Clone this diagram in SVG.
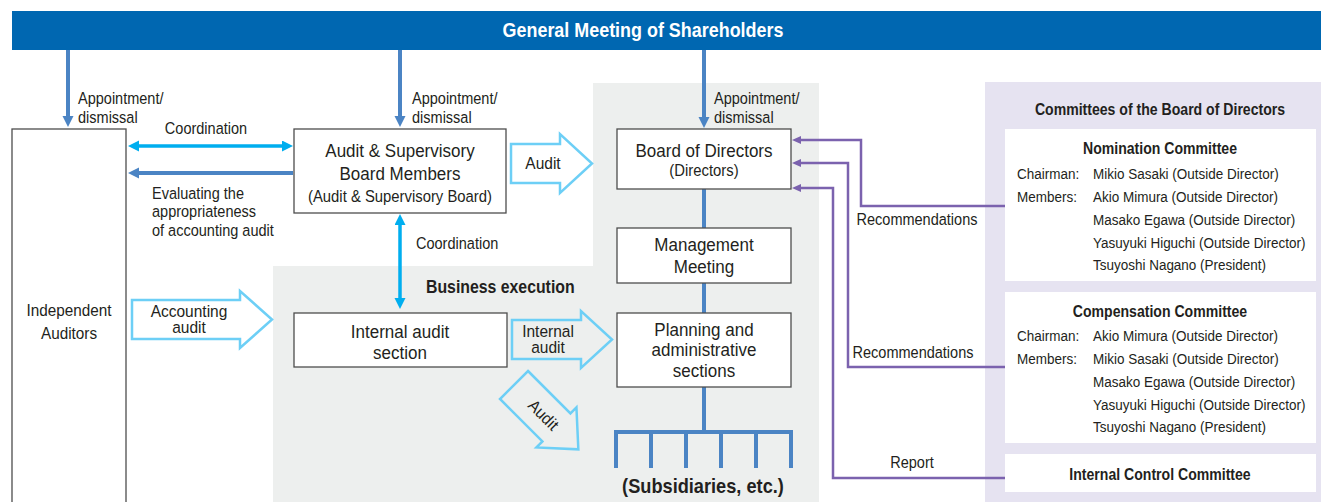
<svg xmlns="http://www.w3.org/2000/svg" width="1321" height="502" viewBox="0 0 1321 502">
<style>
text{font-family:"Liberation Sans",Arial,sans-serif;fill:#231f20;transform-box:fill-box;transform-origin:0% 50%}
.c{text-anchor:middle;transform-origin:50% 50%}
.b{font-weight:bold}
.bx{fill:#fff;stroke:#4d4d4d;stroke-width:1.3}
.lbl{font-size:16.5px;transform:scaleX(.88)}
.bt{font-size:18.5px;transform:scaleX(.92)}
.sub{font-size:16.5px;transform:scaleX(.9)}
.ia{font-size:17px;transform:scaleX(.9)}
.mem{font-size:15.5px;transform:scaleX(.87)}
.ct{font-size:16px;font-weight:bold;text-anchor:middle;transform-origin:50% 50%;transform:scaleX(.88)}
.hl{font-size:16.5px;text-anchor:middle;transform-origin:50% 50%;transform:scaleX(.94)}
.ttl{font-size:19.5px;font-weight:bold;fill:#fff;transform:scaleX(.92)}
.bex{font-size:18px;font-weight:bold;transform:scaleX(.88)}
.subs{font-size:20px;font-weight:bold;transform:scaleX(.91)}
.blue{fill:none;stroke:#4b84c4;stroke-width:4}
.cyan{fill:none;stroke:#00aeef;stroke-width:3.5}
.pur{fill:none;stroke:#7b62ae;stroke-width:2.5}
.hol{fill:none;stroke:#6dcff6;stroke-width:2.5;stroke-linejoin:miter}
</style>
<defs>
<marker id="ab" markerUnits="userSpaceOnUse" markerWidth="12" markerHeight="12" refX="1" refY="5.5" orient="auto"><path d="M0,0 L11,5.5 L0,11 Z" fill="#4b84c4"/></marker>
<marker id="ac" markerUnits="userSpaceOnUse" markerWidth="12" markerHeight="12" refX="1" refY="5.5" orient="auto-start-reverse"><path d="M0,0 L11,5.5 L0,11 Z" fill="#00aeef"/></marker>
<marker id="ap" markerUnits="userSpaceOnUse" markerWidth="10" markerHeight="10" refX="1" refY="4" orient="auto"><path d="M0,0 L9,4 L0,8 Z" fill="#7b62ae"/></marker>
</defs>
<rect width="1321" height="502" fill="#fff"/>
<g id="regions">
<rect id="board-area" x="593" y="83" width="226" height="419" fill="#edefee"/>
<rect id="business-execution-area" x="273" y="266" width="320" height="236" fill="#edefee"/>
<rect id="committees-area" x="985" y="82" width="336" height="420" fill="#e6e3f1"/>
<text class="bex" x="426" y="293">Business execution</text>
</g>
<g id="banner">
<rect x="12" y="11" width="1309" height="39" fill="#0067b1"/>
<text class="c ttl" x="643" y="37.5">General Meeting of Shareholders</text>
</g>
<g id="connectors">
<path class="blue" d="M68,50 V117" marker-end="url(#ab)"/>
<path class="blue" d="M400,50 V117" marker-end="url(#ab)"/>
<path class="blue" d="M704,50 V118" marker-end="url(#ab)"/>
<text class="lbl" x="78" y="104">Appointment/</text>
<text class="lbl" x="78" y="123">dismissal</text>
<text class="lbl" x="412" y="104">Appointment/</text>
<text class="lbl" x="412" y="123">dismissal</text>
<text class="lbl" x="714" y="104">Appointment/</text>
<text class="lbl" x="714" y="123">dismissal</text>
<path class="cyan" d="M138,146 H283" marker-start="url(#ac)" marker-end="url(#ac)"/>
<text class="lbl c" x="206" y="134">Coordination</text>
<path class="blue" d="M293,173 H138" marker-end="url(#ab)"/>
<text class="lbl" x="152" y="199">Evaluating the</text>
<text class="lbl" x="152" y="217">appropriateness</text>
<text class="lbl" x="152" y="236">of accounting audit</text>
<path class="cyan" d="M400,224 V299" marker-start="url(#ac)" marker-end="url(#ac)"/>
<text class="lbl" x="416" y="249">Coordination</text>
<path class="blue" d="M704,189 V228 M704,283 V313 M704,387 V432"/>
<path class="blue" d="M616,468 V432 H791 V468 M651,432 V468 M686,432 V468 M721,432 V468 M756,432 V468"/>
<path class="pur" d="M1005,206 H861 V140 H800" marker-end="url(#ap)"/>
<path class="pur" d="M1005,367 H848 V163 H800" marker-end="url(#ap)"/>
<path class="pur" d="M1005,478 H833 V188 H800" marker-end="url(#ap)"/>
<text class="lbl c" x="917" y="225">Recommendations</text>
<text class="lbl c" x="913" y="358">Recommendations</text>
<text class="lbl c" x="912" y="468">Report</text>
<g id="arrow-audit">
<path class="hol" d="M511,144 H560 V134 L592,163.5 L560,193 V183 H511 Z"/>
<text class="hl" x="543" y="169">Audit</text>
</g>
<g id="arrow-accounting-audit">
<path class="hol" d="M132,300 H240 V291 L272,319.5 L240,348 V339 H132 Z"/>
<text class="hl" x="189" y="317">Accounting</text>
<text class="hl" x="189" y="333">audit</text>
</g>
<g id="arrow-internal-audit">
<path class="hol" d="M512,320 H581 V311 L612,339.5 L581,368 V359 H512 Z"/>
<text class="hl" x="548" y="337">Internal</text>
<text class="hl" x="548" y="353">audit</text>
</g>
<g id="arrow-audit-subsidiaries" transform="translate(514,385) rotate(45)">
<path class="hol" d="M0,-19.8 H60 V-28.3 L91,0 L60,28.3 V19.8 H0 Z"/>
<text class="hl" x="42" y="6">Audit</text>
</g>
</g>
<g id="independent-auditors">
<rect class="bx" x="12" y="129" width="114" height="400"/>
<text class="c ia" x="69" y="316">Independent</text>
<text class="c ia" x="69" y="339">Auditors</text>
</g>
<g id="audit-supervisory-board-members">
<rect class="bx" x="294" y="129" width="212" height="84"/>
<text class="c bt" x="400" y="157">Audit &amp; Supervisory</text>
<text class="c bt" x="400" y="180">Board Members</text>
<text class="c sub" x="400" y="202">(Audit &amp; Supervisory Board)</text>
</g>
<g id="board-of-directors">
<rect class="bx" x="617" y="129" width="174" height="60"/>
<text class="c bt" x="704" y="157">Board of Directors</text>
<text class="c sub" x="704" y="176">(Directors)</text>
</g>
<g id="management-meeting">
<rect class="bx" x="617" y="228" width="174" height="55"/>
<text class="c bt" x="704" y="251">Management</text>
<text class="c bt" x="704" y="273">Meeting</text>
</g>
<g id="planning-administrative-sections">
<rect class="bx" x="617" y="313" width="174" height="74"/>
<text class="c bt" x="704" y="336">Planning and</text>
<text class="c bt" x="704" y="356">administrative</text>
<text class="c bt" x="704" y="377">sections</text>
</g>
<g id="internal-audit-section">
<rect class="bx" x="294" y="313" width="213" height="54"/>
<text class="c bt" x="400" y="338">Internal audit</text>
<text class="c bt" x="400" y="359">section</text>
</g>
<g id="subsidiaries">
<text class="c subs" x="703" y="493">(Subsidiaries, etc.)</text>
</g>
<g id="committees">
<text class="ct" x="1160" y="115">Committees of the Board of Directors</text>
<g id="nomination-committee">
<rect x="1005" y="129" width="311" height="152" fill="#fff"/>
<text class="ct" x="1160" y="154">Nomination Committee</text>
<text class="mem" x="1017" y="179">Chairman:</text>
<text class="mem" x="1017" y="202">Members:</text>
<text class="mem" x="1093" y="179">Mikio Sasaki (Outside Director)</text>
<text class="mem" x="1093" y="202">Akio Mimura (Outside Director)</text>
<text class="mem" x="1093" y="225">Masako Egawa (Outside Director)</text>
<text class="mem" x="1093" y="248">Yasuyuki Higuchi (Outside Director)</text>
<text class="mem" x="1093" y="270">Tsuyoshi Nagano (President)</text>
</g>
<g id="compensation-committee">
<rect x="1005" y="292" width="311" height="151" fill="#fff"/>
<text class="ct" x="1160" y="317">Compensation Committee</text>
<text class="mem" x="1017" y="341">Chairman:</text>
<text class="mem" x="1017" y="364">Members:</text>
<text class="mem" x="1093" y="341">Akio Mimura (Outside Director)</text>
<text class="mem" x="1093" y="364">Mikio Sasaki (Outside Director)</text>
<text class="mem" x="1093" y="387">Masako Egawa (Outside Director)</text>
<text class="mem" x="1093" y="410">Yasuyuki Higuchi (Outside Director)</text>
<text class="mem" x="1093" y="432">Tsuyoshi Nagano (President)</text>
</g>
<g id="internal-control-committee">
<rect x="1005" y="454" width="311" height="38" fill="#fff"/>
<text class="ct" x="1160" y="480">Internal Control Committee</text>
</g>
</g>
</svg>
